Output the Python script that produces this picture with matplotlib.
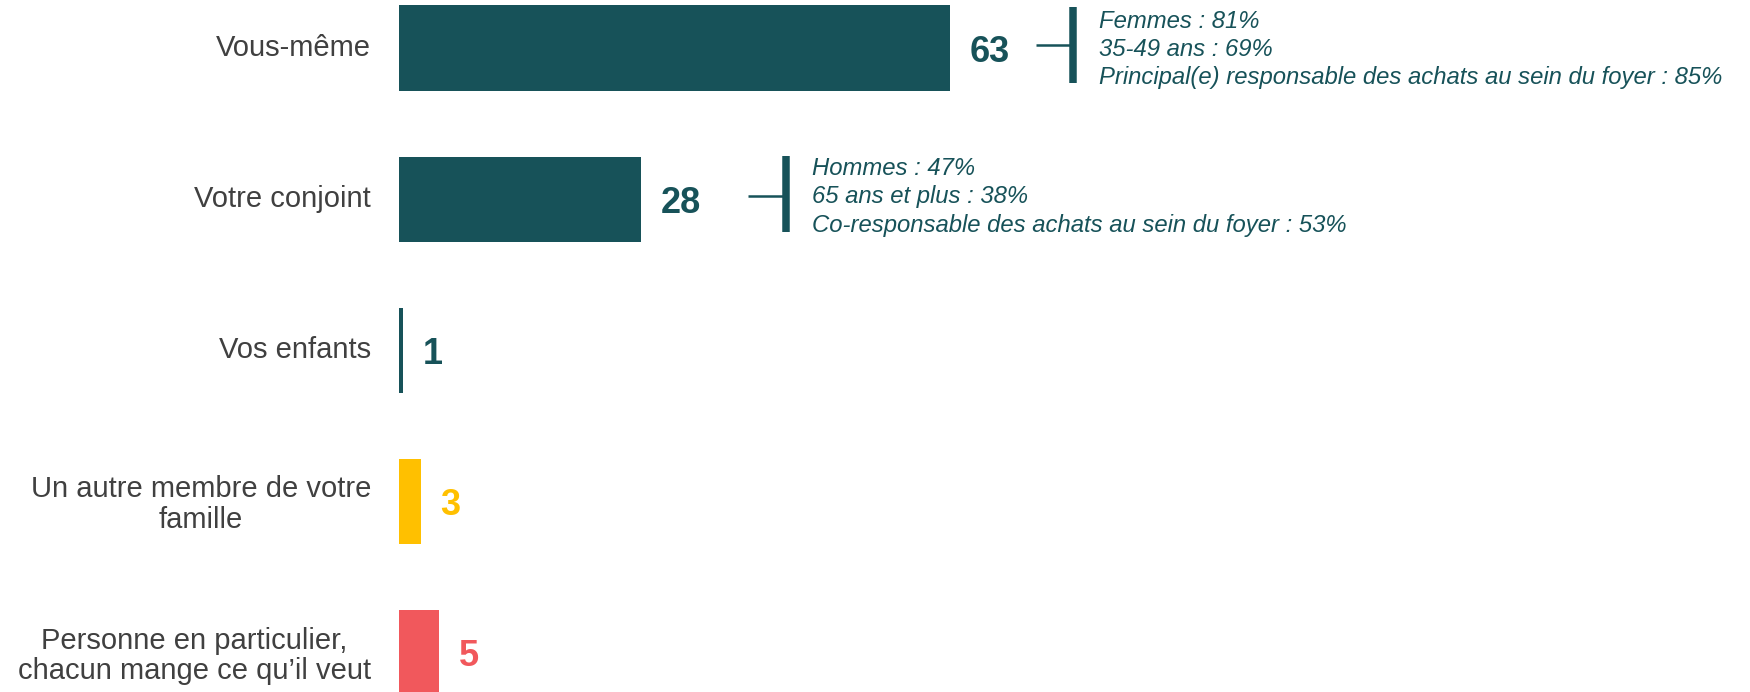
import matplotlib
matplotlib.use("Agg")
import matplotlib.pyplot as plt

# ---- data ----
categories = ["Vous-même", "Votre conjoint", "Vos enfants",
              "Un autre membre de votre\nfamille",
              "Personne en particulier,\nchacun mange ce qu’il veut"]
values = [63, 27.7, 0.5, 2.5, 4.6]          # bar lengths
value_labels = ["63", "28", "1", "3", "5"]   # printed (rounded) percentages
annot_vous = ["Femmes : 81%", "35-49 ans : 69%",
              "Principal(e) responsable des achats au sein du foyer : 85%"]
annot_conjoint = ["Hommes : 47%", "65 ans et plus : 38%",
                  "Co-responsable des achats au sein du foyer : 53%"]

# ---- style ----
TEAL = "#175259"
YELLOW = "#FFC000"
RED = "#F1585C"
GREY = "#404040"
bar_colors = [TEAL, TEAL, TEAL, YELLOW, RED]

plt.rcParams["font.family"] = ["Liberation Sans", "DejaVu Sans"]

W, H, DPI = 1750, 692, 100
fig = plt.figure(figsize=(W / DPI, H / DPI), dpi=DPI)
ax = fig.add_axes([0, 0, 1, 1])
ax.set_axis_off()

PX_PER_UNIT = 8.75
X0 = 399          # pixel of value 0
ROW = 151.25      # pixel distance between rows
Y0 = 48           # pixel centre of first row
ax.set_xlim(-X0 / PX_PER_UNIT, (W - X0) / PX_PER_UNIT)
ax.set_ylim((H - Y0) / ROW, -Y0 / ROW)

ypos = list(range(len(categories)))
ax.barh(ypos, values, height=0.562, color=bar_colors, left=0)

# category labels
for y, cat in zip(ypos, categories):
    dy = 0.02 if "\n" in cat else 0.0
    ax.text(-28 / PX_PER_UNIT, y + dy, cat, ha="right", va="center",
            multialignment="center", fontsize=21, color=GREY,
            linespacing=1.13)

# value labels
for y, v, lab, c in zip(ypos, values, value_labels, bar_colors):
    ax.annotate(lab, xy=(v, y), xytext=(14, 0), textcoords="offset points",
                ha="left", va="center_baseline", fontsize=26,
                fontweight="bold", color=c)


def bracket(row, x_start, x_bar, y_top, y_bot, x_text, text_dy, lines):
    ax.plot([x_start, x_bar], [row - 0.02, row - 0.02], color=TEAL,
            lw=1.8, solid_capstyle="butt")
    ax.plot([x_bar, x_bar], [row + y_top, row + y_bot], color=TEAL,
            lw=5.4, solid_capstyle="butt")
    ax.text(x_text, row + text_dy, "\n".join(lines), ha="left", va="center",
            fontsize=17.2, style="italic", color=TEAL, linespacing=1.3)


bracket(0, (1036 - X0) / PX_PER_UNIT, (1073 - X0) / PX_PER_UNIT,
        -0.271, 0.231, (1099 - X0) / PX_PER_UNIT, 0.01, annot_vous)
bracket(1, (748 - X0) / PX_PER_UNIT, (785.5 - X0) / PX_PER_UNIT,
        -0.284, 0.218, (812 - X0) / PX_PER_UNIT, -0.015, annot_conjoint)

fig.savefig("out.png", dpi=DPI)
